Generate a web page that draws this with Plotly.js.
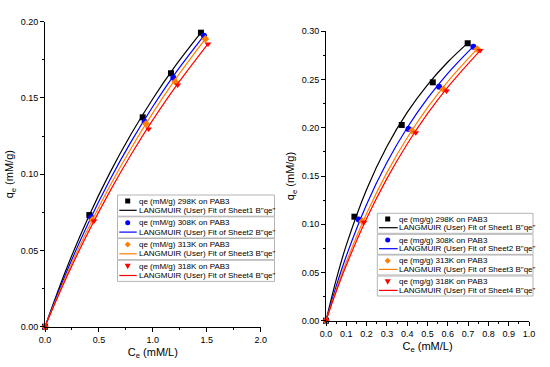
<!DOCTYPE html>
<html><head><meta charset="utf-8">
<script src="https://cdn.plot.ly/plotly-3.0.1.min.js"></script>
<style>html,body{margin:0;padding:0;background:#fff}#chart{width:550px;height:367px}</style>
</head><body><div id="chart"></div>
<script>
// ---------- DATA ----------
const seriesTemps = ['298K', '308K', '313K', '318K'];
const seriesColors = ['#000000', '#0000ff', '#ff8000', '#ff0000'];
const seriesSymbols = ['square', 'circle', 'diamond', 'triangle-down'];

// Left panel: experimental points
const leftCe = [
  [0, 0.411, 0.906, 1.168, 1.446],
  [0, 0.427, 0.924, 1.190, 1.474],
  [0, 0.439, 0.937, 1.209, 1.487],
  [0, 0.454, 0.961, 1.230, 1.511]
];
const leftQe = [
  [0, 0.0732, 0.1373, 0.1662, 0.1928],
  [0, 0.0717, 0.1344, 0.1633, 0.1908],
  [0, 0.0700, 0.1330, 0.1607, 0.1887],
  [0, 0.0693, 0.1296, 0.1585, 0.1854]
];
// Left panel: Langmuir fit curves
const leftFitCe = [
  [0, 0.2, 0.4, 0.6, 0.8, 1.0, 1.2, 1.446],
  [0, 0.2, 0.4, 0.6, 0.8, 1.0, 1.2, 1.474],
  [0, 0.2, 0.4, 0.6, 0.8, 1.0, 1.2, 1.487],
  [0, 0.2, 0.4, 0.6, 0.8, 1.0, 1.2, 1.511]
];
const leftFitQe = [
  [0, 0.0382, 0.0715, 0.1007, 0.1265, 0.1495, 0.1702, 0.1928],
  [0, 0.0359, 0.0677, 0.0960, 0.1215, 0.1444, 0.1653, 0.1908],
  [0, 0.0339, 0.0644, 0.0921, 0.1172, 0.1402, 0.1613, 0.1887],
  [0, 0.0324, 0.0618, 0.0886, 0.1131, 0.1356, 0.1563, 0.1854]
];

// Right panel: experimental points
const rightCe = [
  [0, 0.140, 0.373, 0.526, 0.698],
  [0, 0.161, 0.406, 0.557, 0.726],
  [0, 0.179, 0.424, 0.578, 0.745],
  [0, 0.187, 0.442, 0.594, 0.759]
];
const rightQe = [
  [0, 0.1078, 0.2029, 0.2471, 0.2876],
  [0, 0.1050, 0.1987, 0.2426, 0.2840],
  [0, 0.1030, 0.1970, 0.2400, 0.2816],
  [0, 0.1020, 0.1949, 0.2380, 0.2800]
];
// Right panel: Langmuir fit curves
const rightFitCe = [
  [0, 0.05, 0.1, 0.2, 0.3, 0.4, 0.5, 0.6, 0.698],
  [0, 0.05, 0.1, 0.2, 0.3, 0.4, 0.5, 0.6, 0.726],
  [0, 0.05, 0.1, 0.2, 0.3, 0.4, 0.5, 0.6, 0.745],
  [0, 0.05, 0.1, 0.2, 0.3, 0.4, 0.5, 0.6, 0.759]
];
const rightFitQe = [
  [0, 0.0423, 0.0783, 0.1361, 0.1806, 0.2159, 0.2445, 0.2682, 0.2878],
  [0, 0.0356, 0.0671, 0.1205, 0.1639, 0.2000, 0.2304, 0.2564, 0.2843],
  [0, 0.0319, 0.0608, 0.1111, 0.1535, 0.1896, 0.2208, 0.2479, 0.2817],
  [0, 0.0300, 0.0574, 0.1059, 0.1473, 0.1832, 0.2146, 0.2422, 0.2800]
];

// Legend labels
const leftPointLabels = seriesTemps.map(t => 'qe (mM/g) ' + t + ' on PAB3');
const rightPointLabels = seriesTemps.map(t => 'qe (mg/g) ' + t + ' on PAB3');
const fitLabels = ['Sheet1', 'Sheet2', 'Sheet3', 'Sheet4'].map(s => 'LANGMUIR (User) Fit of ' + s + ' B"qe"');

// ---------- LAYOUT HELPERS ----------
const W = 550, H = 367;
const FONT = 'Arial, "Liberation Sans", sans-serif';
const px = x => x / W;
const py = y => 1 - y / H;

const traces = [];
function addPanel(ce, qe, fce, fqe, xa, ya) {
  for (let i = 0; i < 4; i++) {
    traces.push({
      x: fce[i], y: fqe[i], xaxis: xa, yaxis: ya, type: 'scatter', mode: 'lines',
      line: {color: seriesColors[i], width: 1.2, shape: 'spline'},
      showlegend: false, hoverinfo: 'skip', cliponaxis: false
    });
    traces.push({
      x: ce[i], y: qe[i], xaxis: xa, yaxis: ya, type: 'scatter', mode: 'markers',
      marker: {color: seriesColors[i], symbol: seriesSymbols[i], size: 6},
      showlegend: false, cliponaxis: false
    });
  }
}
addPanel(leftCe, leftQe, leftFitCe, leftFitQe, 'x', 'y');
addPanel(rightCe, rightQe, rightFitCe, rightFitQe, 'x2', 'y2');

const shapes = [], annotations = [];
function symbolShape(sym, cx, cy, s, color) {
  const h = s / 2;
  if (sym === 'square') {
    return {type: 'rect', xref: 'paper', yref: 'paper', x0: px(cx - h), x1: px(cx + h), y0: py(cy + h), y1: py(cy - h),
      fillcolor: color, line: {width: 0}};
  }
  if (sym === 'circle') {
    return {type: 'circle', xref: 'paper', yref: 'paper', x0: px(cx - h), x1: px(cx + h), y0: py(cy + h), y1: py(cy - h),
      fillcolor: color, line: {width: 0}};
  }
  let pts;
  if (sym === 'diamond') pts = [[cx, cy - h - 0.5], [cx + h + 0.5, cy], [cx, cy + h + 0.5], [cx - h - 0.5, cy]];
  else pts = [[cx - h - 0.5, cy - h], [cx + h + 0.5, cy - h], [cx, cy + h + 0.5]];
  const path = 'M' + pts.map(p => px(p[0]) + ',' + py(p[1])).join('L') + 'Z';
  return {type: 'path', xref: 'paper', yref: 'paper', path: path, fillcolor: color, line: {width: 0}};
}
function addLegend(cfg, pointLabels) {
  for (let i = 0; i < 4; i++) {
    const top = cfg.tops[i];
    shapes.push({type: 'rect', xref: 'paper', yref: 'paper', x0: px(cfg.x0), x1: px(cfg.x1), y0: py(top + cfg.h), y1: py(top),
      fillcolor: '#ffffff', line: {color: '#b4b4b4', width: 1}});
    const c1 = top + cfg.r1, c2 = top + cfg.r2;
    shapes.push(symbolShape(seriesSymbols[i], cfg.mx, c1, cfg.ms, seriesColors[i]));
    shapes.push({type: 'line', xref: 'paper', yref: 'paper', x0: px(cfg.lx0), x1: px(cfg.lx1), y0: py(c2), y1: py(c2),
      line: {color: seriesColors[i], width: 1.2}});
    [[pointLabels[i], c1], [fitLabels[i], c2]].forEach(([t, c]) => {
      annotations.push({text: t, xref: 'paper', yref: 'paper', x: px(cfg.tx), y: py(c), xanchor: 'left', yanchor: 'middle',
        showarrow: false, borderpad: 0, font: {family: FONT, size: cfg.fs, color: '#000'}});
    });
  }
}
addLegend({x0: 117.5, x1: 274.5, tops: [195, 216.8, 238.5, 260.2], h: 21.2, r1: 6, r2: 15.3,
  mx: 127.7, ms: 5, lx0: 119.3, lx1: 136.7, tx: 137.5, fs: 8}, leftPointLabels);
addLegend({x0: 377.3, x1: 533, tops: [213.3, 234.3, 255, 276], h: 20, r1: 5.7, r2: 14.4,
  mx: 387.7, ms: 5, lx0: 379, lx1: 397.7, tx: 397.8, fs: 8}, rightPointLabels);

function axis(range, dtick, minor, fmt, domain, anchor, title) {
  return {
    range: range, domain: domain, anchor: anchor, tickmode: 'linear', tick0: 0, dtick: dtick,
    tickformat: fmt, ticks: 'outside', ticklen: 4, tickwidth: 1, tickcolor: '#000',
    minor: {dtick: minor, ticks: 'outside', ticklen: 2.5, tickwidth: 1, tickcolor: '#000', showgrid: false},
    showline: true, linecolor: '#000', linewidth: 1, showgrid: false, zeroline: false,
    tickfont: {family: FONT, size: 9, color: '#000'},
    title: {text: title, font: {family: FONT, size: 11, color: '#000'}, standoff: 4}
  };
}

const layout = {
  width: W, height: H, margin: {l: 0, r: 0, t: 0, b: 0},
  paper_bgcolor: '#fff', plot_bgcolor: '#fff', showlegend: false,
  font: {family: FONT, color: '#000'},
  xaxis: axis([0, 2], 0.5, 0.25, '.1f', [px(45), px(260.7)], 'y', 'C<sub>e</sub> (mM/L)'),
  yaxis: axis([0, 0.2], 0.05, 0.025, '.2f', [py(326.7), py(21.7)], 'x', 'q<sub>e</sub> (mM/g)'),
  xaxis2: axis([0, 1], 0.1, 0.05, '.1f', [px(326), px(529)], 'y2', 'C<sub>e</sub> (mM/L)'),
  yaxis2: axis([0, 0.3], 0.05, 0.025, '.2f', [py(320.7), py(31.3)], 'x2', 'q<sub>e</sub> (mM/g)'),
  shapes: shapes, annotations: annotations
};

Plotly.newPlot('chart', traces, layout, {displayModeBar: false, staticPlot: true});
</script></body></html>
